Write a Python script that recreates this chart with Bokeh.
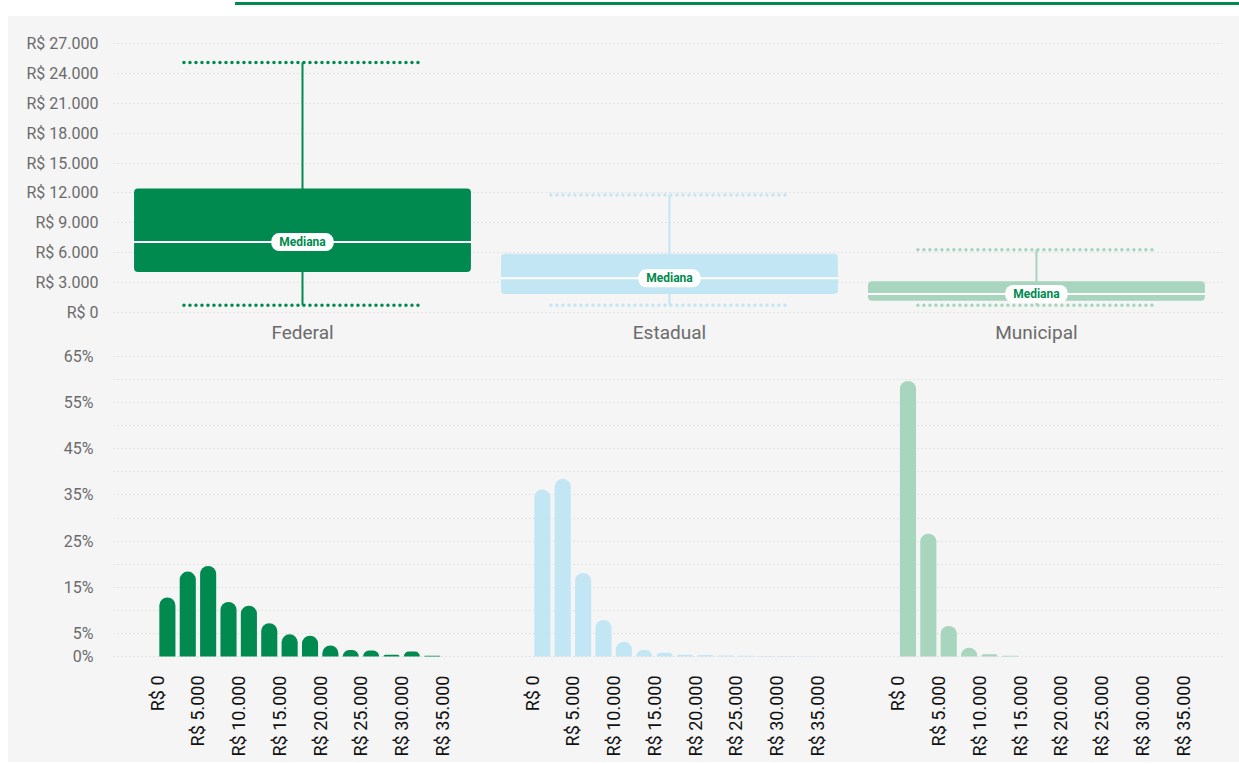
import math
from bokeh.plotting import figure
from bokeh.models import FixedTicker, Div, ColumnDataSource, Range1d
from bokeh.layouts import column
from bokeh.embed import file_html
from bokeh.resources import INLINE
from bokeh.core.properties import value

# ---------------- data ----------------
categories = ["Federal", "Estadual", "Municipal"]
colors = ["#008a50", "#c3e6f5", "#a7d5bd"]
whisker_low = [740, 730, 730]
q1 = [4070, 1870, 1170]
median = [7070, 3430, 1870]
q3 = [12450, 5900, 3130]
whisker_high = [25100, 11800, 6300]

box_ticks = list(range(0, 27001, 3000))
box_tick_labels = ["R$ " + f"{v:,}".replace(",", ".") for v in box_ticks]

bin_width = 2500
bin_starts = list(range(0, 35000, 2500))
federal_pct = [12.8, 18.4, 19.6, 11.8, 11.0, 7.2, 4.8, 4.5, 2.4, 1.4, 1.3, 0.4, 1.1, 0.15]
estadual_pct = [36.2, 38.5, 18.1, 7.9, 3.2, 1.4, 0.8, 0.4, 0.3, 0.2, 0.15, 0.1, 0.1, 0.05]
municipal_pct = [59.7, 26.6, 6.6, 1.9, 0.5, 0.15, 0, 0, 0, 0, 0, 0, 0, 0]
pct_ticks = [0, 5, 15, 25, 35, 45, 55, 65]
pct_tick_labels = [f"{v}%" for v in pct_ticks]
hist_ticks = list(range(0, 35001, 5000))
hist_tick_labels = ["R$ " + f"{v:,}".replace(",", ".") for v in hist_ticks]

# ---------------- layout constants ----------------
W = 1231
BG = "#f5f5f5"
FONT = "Roboto"
GRID = "#d0d0d0"
panel_offsets = [0, 46010, 90870]

# ---------------- top: box plots ----------------
p1 = figure(width=W, height=330, output_backend="svg", toolbar_location=None,
            x_range=Range1d(-0.515, 2.507), y_range=Range1d(-500, 28300),
            min_border_left=105, min_border_right=17, min_border_top=14,
            min_border_bottom=28)
p1.background_fill_color = BG
p1.border_fill_color = BG
p1.outline_line_color = None

xs = list(range(len(categories)))
src = ColumnDataSource(dict(x=xs, lo=whisker_low, q1=q1, med=median, q3=q3,
                            hi=whisker_high, color=colors,
                            label=["Mediana"] * len(xs)))
box_w = 0.918
cap_w = 0.646
src.data["cap_l"] = [x - cap_w / 2 for x in xs]
src.data["cap_r"] = [x + cap_w / 2 for x in xs]
src.data["box_l"] = [x - box_w / 2 for x in xs]
src.data["box_r"] = [x + box_w / 2 for x in xs]

p1.segment(x0="x", y0="lo", x1="x", y1="hi", line_color="color", line_width=2, source=src)
p1.segment(x0="cap_l", y0="hi", x1="cap_r", y1="hi", line_color="color",
           line_width=3.5, line_dash="0 6", line_cap="round", source=src)
p1.segment(x0="cap_l", y0="lo", x1="cap_r", y1="lo", line_color="color",
           line_width=3.5, line_dash="0 6", line_cap="round", source=src)
p1.vbar(x="x", width=box_w, bottom="q1", top="q3", fill_color="color",
        line_color=None, border_radius=4, source=src)
p1.segment(x0="box_l", y0="med", x1="box_r", y1="med", line_color="white",
           line_width=2, source=src)
p1.text(x="x", y="med", text="label", anchor="center", text_align="center",
        text_baseline="middle", text_color="#008a50", text_font=value(FONT),
        text_font_size="12px", text_font_style="bold",
        background_fill_color="white", border_radius=8, padding=[8, 2],
        source=src)

p1.yaxis.ticker = FixedTicker(ticks=box_ticks)
p1.yaxis.major_label_overrides = {v: l for v, l in zip(box_ticks, box_tick_labels)}
p1.xaxis.ticker = FixedTicker(ticks=xs)
p1.xaxis.major_label_overrides = {x: c for x, c in zip(xs, categories)}
for ax in (p1.xaxis, p1.yaxis):
    ax.axis_line_color = None
    ax.major_tick_line_color = None
    ax.minor_tick_line_color = None
    ax.major_tick_out = 0
    ax.minor_tick_out = 0
    ax.major_label_text_font = FONT
    ax.major_label_text_color = "#6b6b6b"
p1.yaxis.major_label_text_font_size = "16px"
p1.yaxis.major_label_standoff = 15
p1.xaxis.major_label_text_font_size = "19px"
p1.xaxis.major_label_standoff = 3
p1.xgrid.grid_line_color = None
p1.ygrid.grid_line_color = GRID
p1.ygrid.grid_line_dash = "1 3"
p1.ygrid.grid_line_width = 1

# ---------------- bottom: histograms ----------------
p2 = figure(width=W, height=416, output_backend="svg", toolbar_location=None,
            x_range=Range1d(-5362, 130712), y_range=Range1d(-0.87, 66.3),
            min_border_left=105, min_border_right=17, min_border_top=4,
            min_border_bottom=102)
p2.background_fill_color = BG
p2.border_fill_color = BG
p2.outline_line_color = None

series = [federal_pct, estadual_pct, municipal_pct]
all_ticks = []
overrides = {}
for off, vals, col in zip(panel_offsets, series, colors):
    centers = [off + b + bin_width / 2 for b in bin_starts]
    p2.vbar(x=centers, width=bin_width * 0.79, bottom=0, top=vals,
            fill_color=col, line_color=None, border_radius=[8, 8, 0, 0])
    for t, l in zip(hist_ticks, hist_tick_labels):
        all_ticks.append(off + t)
        overrides[off + t] = l

p2.xaxis.ticker = FixedTicker(ticks=all_ticks)
p2.xaxis.major_label_overrides = overrides
p2.xaxis.major_label_orientation = math.pi / 2
p2.yaxis.ticker = FixedTicker(ticks=pct_ticks)
p2.yaxis.major_label_overrides = {v: l for v, l in zip(pct_ticks, pct_tick_labels)}
for ax in (p2.xaxis, p2.yaxis):
    ax.axis_line_color = None
    ax.major_tick_line_color = None
    ax.minor_tick_line_color = None
    ax.major_tick_out = 0
    ax.minor_tick_out = 0
    ax.major_label_text_font = FONT
p2.yaxis.major_label_text_color = "#6b6b6b"
p2.yaxis.major_label_text_font_size = "16px"
p2.yaxis.major_label_standoff = 20
p2.xaxis.major_label_text_color = "#111111"
p2.xaxis.major_label_text_font_size = "18px"
p2.xaxis.major_label_standoff = 15
p2.xgrid.grid_line_color = None
p2.ygrid.ticker = FixedTicker(ticks=list(range(0, 66, 5)))
p2.ygrid.grid_line_color = GRID
p2.ygrid.grid_line_dash = "1 3"
p2.ygrid.grid_line_width = 1

top_band = Div(text=('<div style="width:%dpx;height:16px;background:#ffffff;position:relative;">'
                     '<div style="position:absolute;left:227px;top:2px;width:%dpx;height:3px;'
                     'background:#008a50;"></div></div>') % (W, W - 227),
               width=W, height=16, margin=0)

layout = column(top_band, p1, p2, spacing=0, margin=(0, 0, 0, 8),
                styles={"background-color": BG})
open("out.html", "w").write(file_html(layout, INLINE))
